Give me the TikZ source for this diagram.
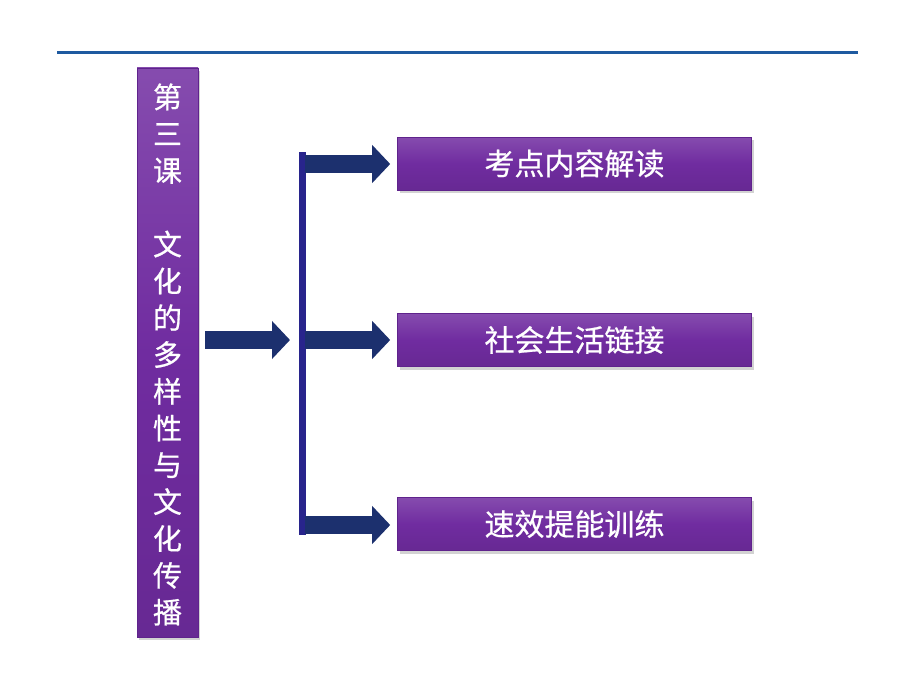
\documentclass[tikz,border=0pt]{standalone}
\usepackage{fontspec}
\newfontfamily\cjk[FakeBold=0.6]{Noto Sans CJK SC}
\usetikzlibrary{arrows.meta,shadows}
\definecolor{topline}{RGB}{30,90,160}
\definecolor{boxfill}{RGB}{112,44,160}
\definecolor{boxedge}{RGB}{95,35,140}
\definecolor{arrowc}{RGB}{28,48,110}
\definecolor{barc}{RGB}{40,36,140}
\tikzset{
  pbox/.style={rectangle, fill=boxfill, draw=boxedge, line width=0.6pt,
    top color=boxfill!85!white, bottom color=boxfill!92!black, middle color=boxfill,
    drop shadow={shadow xshift=2pt, shadow yshift=-3pt, opacity=0.35},
    text=white, font=\cjk\fontsize{30}{34}\selectfont, inner sep=0pt},
  fat/.style={draw=arrowc, line width=18pt,
    -{Triangle[length=18pt,width=37pt]}, arrowc},
}
\begin{document}
\begin{tikzpicture}[x=1pt,y=-1pt]
\useasboundingbox[fill=white] (0,0) rectangle (920,690);
% top rule
\coordinate (ruleL) at (57,53);
\coordinate (ruleR) at (858,53);
\draw[topline, line width=3pt] (ruleL) -- (ruleR);
% title box
\node[pbox, minimum width=61pt, minimum height=569pt] (title) at (167.5,352.5) {};
\node[text=white, font=\cjk\fontsize{29}{36.8}\selectfont, align=center, inner sep=0pt]
  (titletext) at (167.5,354.5)
  {第\\三\\课\\\mbox{}\\文\\化\\的\\多\\样\\性\\与\\文\\化\\传\\播};
% vertical bar
\node[rectangle, fill=barc, minimum width=7pt, minimum height=383pt, inner sep=0pt] (bar) at (302,343.5) {};
% right boxes
\node[pbox, minimum width=354pt, minimum height=53pt] (b1) at (574.5,163.5) {考点内容解读};
\node[pbox, minimum width=354pt, minimum height=53pt] (b2) at (574.5,340) {社会生活链接};
\node[pbox, minimum width=354pt, minimum height=53pt] (b3) at (574.5,524) {速效提能训练};
% arrows
\coordinate (in) at (205,340);
\coordinate (inTip) at (290,340);
\draw[fat] (in) -- (inTip);
\coordinate (s1) at (305,164);
\coordinate (s2) at (305,340);
\coordinate (s3) at (305,525);
\draw[fat] (s1) -- ([xshift=-7pt]b1.west |- s1);
\draw[fat] (s2) -- ([xshift=-7pt]b2.west |- s2);
\draw[fat] (s3) -- ([xshift=-7pt]b3.west |- s3);
\end{tikzpicture}
\end{document}
